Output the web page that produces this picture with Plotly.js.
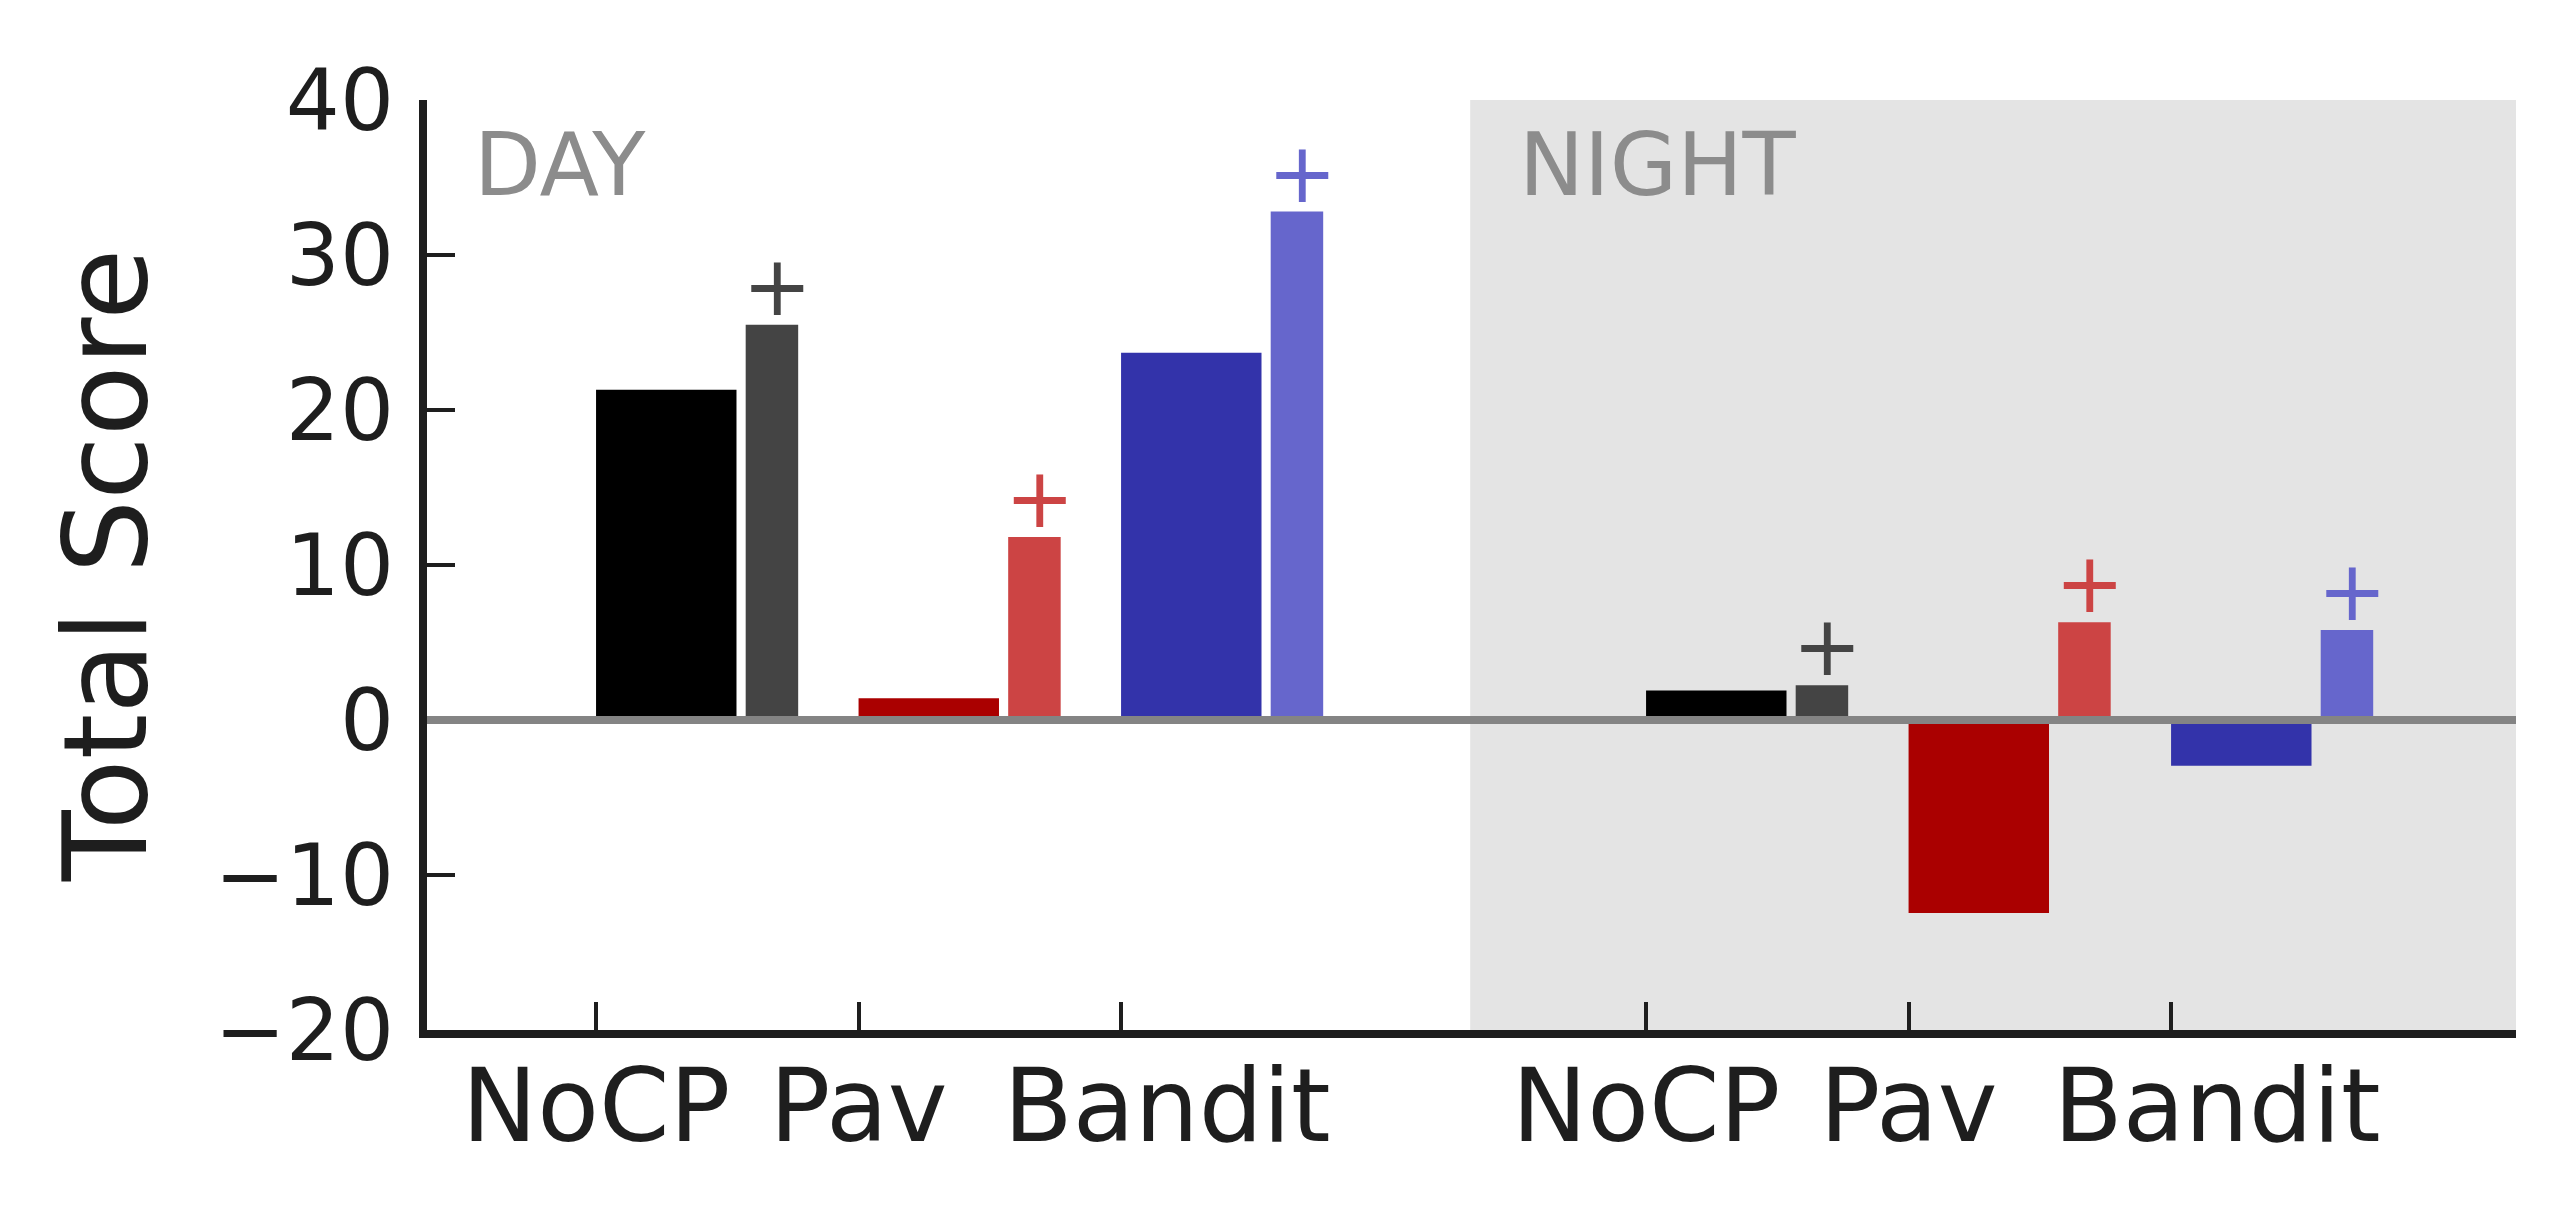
<!DOCTYPE html>
<html>
<head>
<meta charset="utf-8">
<script src="https://cdn.plot.ly/plotly-3.0.1.min.js"></script>
<style>
  html, body { margin: 0; padding: 0; background: #fff; }
  #myDiv { width: 2575px; height: 1220px; }
</style>
</head>
<body>
<div id="myDiv"></div>
<script>
// values
var categories = ['NoCP', 'Pav', 'Bandit'];
var dayBase = [21.3, 1.4, 23.7];
var dayCP = [25.5, 11.8, 32.8];
var nightBase = [1.9, -12.45, -2.95];
var nightCP = [2.25, 6.3, 5.8];
var periodLabels = ['DAY', 'NIGHT'];
var yTicks = [-20, -10, 0, 10, 20, 30, 40];

var baseColors = ['#000000', '#aa0000', '#3333aa'];
var cpColors = ['#444444', '#cc4444', '#6666cc'];

var dayPos = [0, 1, 2];
var nightPos = [4, 5, 6];
var labelShift = [0, 0, 0.175];   // Bandit label sits right of its tick
var xRange = [-0.644, 7.314];
var textColor = '#1e1e1e';
var font = 'DejaVu Sans';

function drawScores(){
    var pos = dayPos.concat(nightPos);
    var base = dayBase.concat(nightBase);
    var cp = dayCP.concat(nightCP);
    var bColors = baseColors.concat(baseColors);
    var cColors = cpColors.concat(cpColors);
    var shifts = labelShift.concat(labelShift);
    var labelPos = pos.map(function(p, i){ return p + shifts[i]; });

    var baseBars = {
        x: pos, y: base, type: 'bar',
        offset: 0, width: 0.535,
        marker: {color: bColors, line: {width: 0}},
        hoverinfo: 'skip'
    };

    var cpBars = {
        x: pos, y: cp, type: 'bar',
        offset: 0.57, width: 0.2,
        marker: {color: cColors, line: {width: 0}},
        hoverinfo: 'skip'
    };

    // "+" sits just above each CP bar (small nudge down so the glyph gap matches)
    var plusMarks = {
        x: pos.map(function(p){ return p + 0.69; }),
        y: cp.map(function(v){ return v - 0.7; }),
        xaxis: 'x2',
        mode: 'text', type: 'scatter',
        text: cp.map(function(){ return '+'; }),
        textposition: 'top center',
        textfont: {family: font, size: 83, color: cColors},
        cliponaxis: false,
        hoverinfo: 'skip'
    };

    var data = [baseBars, cpBars, plusMarks];

    var layout = {
        width: 2575, height: 1220,
        margin: {l: 427, r: 59, t: 100, b: 190},
        paper_bgcolor: '#ffffff',
        plot_bgcolor: '#ffffff',
        barmode: 'overlay',
        showlegend: false,
        font: {family: font, color: textColor},
        xaxis: {
            range: xRange,
            tickvals: pos,
            showticklabels: false,
            ticks: 'inside', ticklen: 28, tickwidth: 4, tickcolor: textColor,
            showline: true, linewidth: 8, linecolor: textColor,
            showgrid: false, zeroline: false,
            automargin: false,
            fixedrange: true
        },
        // label-only axis so the category names can sit off the tick marks
        xaxis2: {
            overlaying: 'x', anchor: 'y', side: 'bottom',
            range: xRange,
            tickvals: labelPos,
            ticktext: categories.concat(categories),
            tickangle: 0,
            ticks: '', showline: false, showgrid: false, zeroline: false,
            tickfont: {family: font, size: 101, color: textColor},
            ticklabelstandoff: 9,
            automargin: false,
            fixedrange: true
        },
        yaxis: {
            range: [yTicks[0], yTicks[yTicks.length - 1]],
            tickvals: yTicks,
            ticks: 'inside', ticklen: 28, tickwidth: 4, tickcolor: textColor,
            showline: true, linewidth: 8, linecolor: textColor,
            showgrid: false, zeroline: false,
            tickfont: {family: font, size: 85, color: textColor},
            ticklabelstandoff: 8,
            title: {text: 'Total Score', font: {family: font, size: 116, color: textColor}, standoff: 32},
            automargin: false,
            fixedrange: true
        },
        shapes: [
            {type: 'rect', xref: 'x', yref: 'paper', x0: 3.33, x1: xRange[1], y0: 0, y1: 1,
             fillcolor: '#e4e4e4', line: {width: 0}, layer: 'below'},
            {type: 'line', xref: 'paper', yref: 'y', x0: 0, x1: 1, y0: 0, y1: 0,
             line: {color: '#848484', width: 8}, layer: 'above'}
        ],
        annotations: [
            {text: periodLabels[0], xref: 'x', yref: 'y', x: -0.472, y: 35.8,
             xanchor: 'left', yanchor: 'middle', showarrow: false,
             font: {family: font, size: 87, color: '#8c8c8c'}},
            {text: periodLabels[1], xref: 'x', yref: 'y', x: 3.509, y: 35.8,
             xanchor: 'left', yanchor: 'middle', showarrow: false,
             font: {family: font, size: 87, color: '#8c8c8c'}}
        ]
    };

    Plotly.newPlot('myDiv', data, layout, {staticPlot: true, displayModeBar: false});
}

drawScores();
</script>
</body>
</html>
